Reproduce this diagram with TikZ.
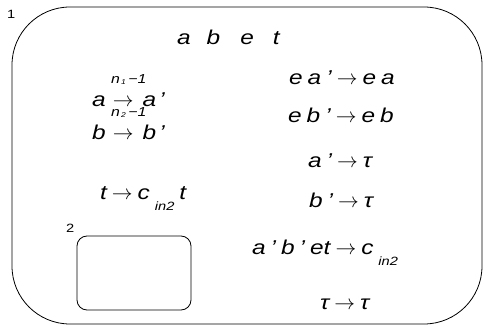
\documentclass[tikz,border=0pt]{standalone}
\usepackage{fontspec}
\setmainfont[FakeStretch=1.22]{Liberation Sans}
\newcommand{\ar}{{\upshape$\rightarrow$}}
\newcommand{\g}{\hspace{5pt}}
\newcommand{\dn}[1]{\raisebox{-11pt}{\fontsize{12}{12}\selectfont #1}}
\newcommand{\sx}[1]{\hspace{1pt}\raisebox{-1pt}{\fontsize{7}{7}\selectfont #1}\hspace{2.5pt}}
\begin{document}
\begin{tikzpicture}[x=1pt,y=-1pt,
  lbl/.style={font=\fontsize{12}{12}\selectfont, inner sep=0pt, anchor=base west},
  sup/.style={font=\fontsize{13}{13}\selectfont\itshape, inner sep=0pt, anchor=base west},
  eq/.style={font=\fontsize{20}{20}\selectfont\itshape, inner sep=0pt, anchor=base west},
  box/.style={draw, line width=0.8pt}]
\useasboundingbox (0,0) rectangle (483,326);
\draw[box, rounded corners=58pt] (12,7) rectangle (482,324);
\coordinate (m1) at (12,7);
\draw[box, rounded corners=10pt] (77,236) rectangle (191,310);
\coordinate (m2) at (77,236);
\node[lbl] (l1) at (7,19) {1};
\node[lbl] (l2) at (66,233) {2};
\node[eq] (abet) at (177,44.5) {a\hspace{16pt}b\hspace{20pt}e\hspace{19pt}t};
\node[eq] (r1) at (92,107) {a\hspace{7pt}\ar\hspace{9pt}a\,'};
\node[sup] (s1) at (111,84) {n\sx{1}−1};
\node[eq] (r2) at (92,140) {b\hspace{7pt}\ar\hspace{9pt}b\,'};
\node[sup] (s2) at (111,117) {n\sx{2}−1};
\node[eq] (r3) at (100,200) {t\g\ar\g c\g\dn{in2}\g t};
\node[eq] (r4) at (289,85) {e\g a\g '\g\ar\g e\g a};
\node[eq] (r5) at (288,123) {e\g b\g '\g\ar\g e\g b};
\node[eq] (r6) at (308,168) {a\g '\g\ar\g τ};
\node[eq] (r7) at (309,208) {b\g '\g\ar\g τ};
\node[eq] (r8) at (252,255) {a\g '\g b\g '\g et\g\ar\g c\g\dn{in2}};
\node[eq] (r9) at (320,310) {τ\g\ar\g τ};
\end{tikzpicture}
\end{document}
